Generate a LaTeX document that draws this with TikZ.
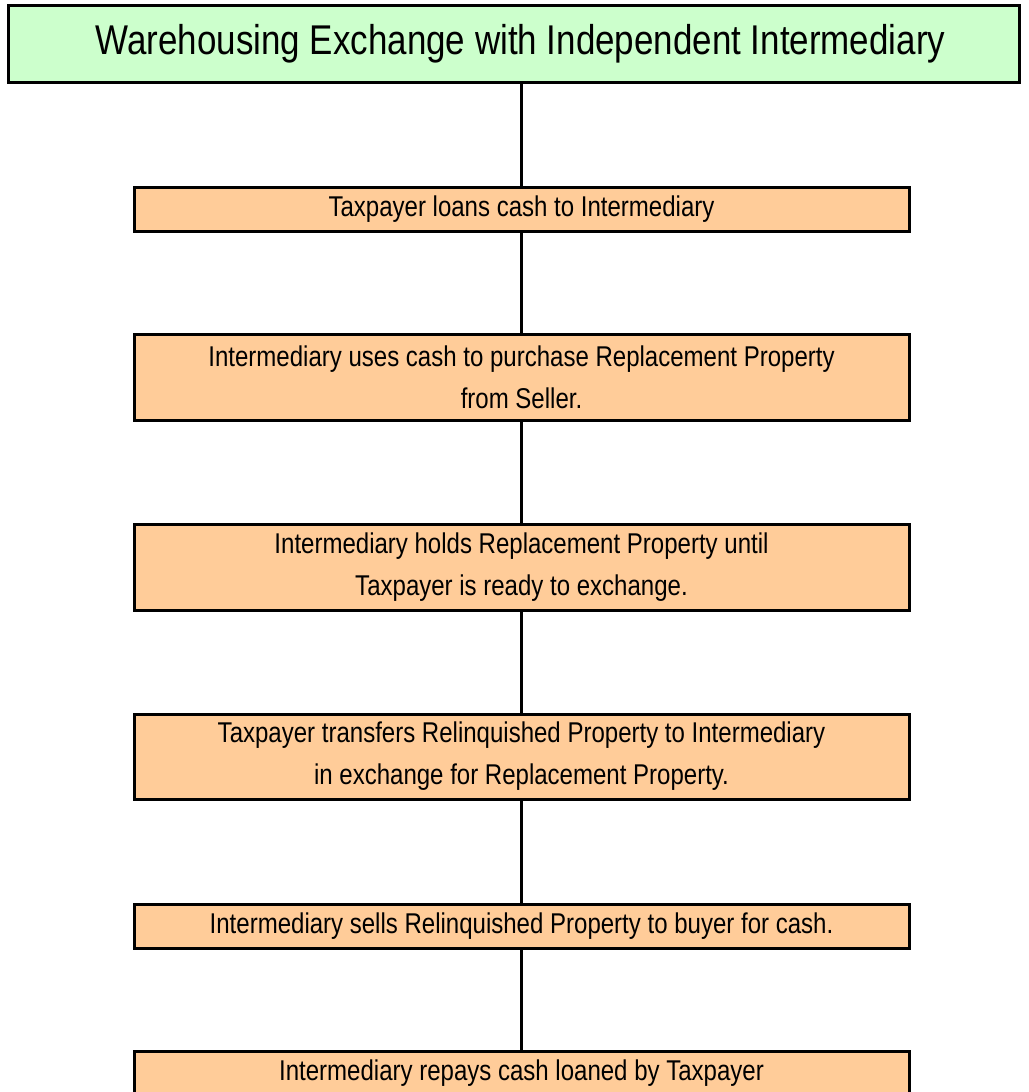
\documentclass[tikz,border=0pt]{standalone}
\usepackage{fontspec}
\setmainfont{Liberation Sans}[FakeStretch=0.84]
\definecolor{titlefill}{HTML}{CCFFCC}
\definecolor{stepfill}{HTML}{FFCC99}
\tikzset{
  headbox/.style={draw=black, line width=3pt, fill=titlefill, inner sep=0pt,
    minimum width=1011pt, minimum height=77pt,
    font=\fontsize{41.6}{50}\selectfont},
  stepbox/.style={draw=black, line width=3pt, fill=stepfill, inner sep=0pt,
    minimum width=775pt, align=center,
    font=\fontsize{28.6}{42}\selectfont},
  flowline/.style={draw=black, line width=2.5pt}
}
\begin{document}
\begin{tikzpicture}[x=1pt, y=-1pt]
\useasboundingbox (0,0) rectangle (1028,1092);

\node[headbox] (title) at (513.5,43.5) {\hspace*{14pt}Warehousing Exchange with Independent Intermediary};

\node[stepbox, minimum height=44pt] (s1) at (521.5,209) {Taxpayer loans cash to Intermediary};
\node[stepbox, minimum height=86pt] (s2) at (521.5,377) {Intermediary uses cash to purchase Replacement Property\\from Seller.};
\node[stepbox, minimum height=86pt] (s3) at (521.5,567) {Intermediary holds Replacement Property until\\Taxpayer is ready to exchange.};
\node[stepbox, minimum height=85pt] (s4) at (521.5,756.5) {Taxpayer transfers Relinquished Property to Intermediary\\in exchange for Replacement Property.};
\node[stepbox, minimum height=44pt] (s5) at (521.5,926) {Intermediary sells Relinquished Property to buyer for cash.};
\node[stepbox, minimum height=44pt] (s6) at (521.5,1073) {Intermediary repays cash loaned by Taxpayer};

% connectors joining the steps in sequence
\draw[flowline] (title.south -| s1.north) -- (s1.north);
\draw[flowline] (s1.south) -- (s2.north);
\draw[flowline] (s2.south) -- (s3.north);
\draw[flowline] (s3.south) -- (s4.north);
\draw[flowline] (s4.south) -- (s5.north);
\draw[flowline] (s5.south) -- (s6.north);
\end{tikzpicture}
\end{document}
